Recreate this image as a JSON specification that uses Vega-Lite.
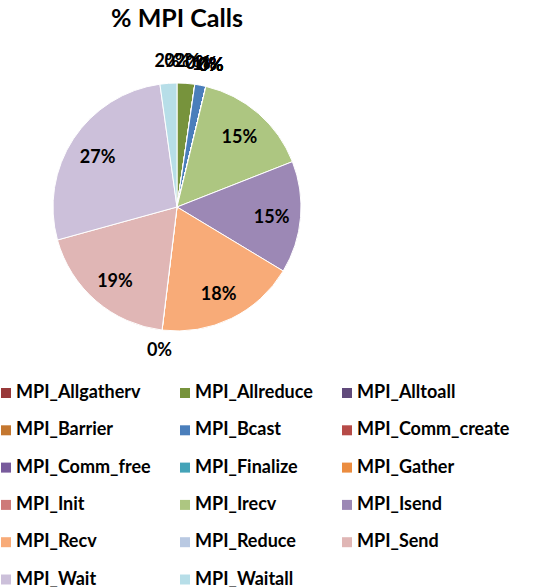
{
  "$schema": "https://vega.github.io/schema/vega-lite/v6.json",
  "width": 354,
  "height": 334,
  "autosize": {"type": "none"},
  "padding": {"top": 40, "left": 0, "right": 195, "bottom": 213},
  "background": "#ffffff",
  "title": {"text": "% MPI Calls", "font": "Lato", "fontSize": 25, "fontWeight": "bold", "color": "#000000", "anchor": "middle", "offset": 8},
  "data": {"values": [
    {"call": "MPI_Allgatherv", "share": 0.0},
    {"call": "MPI_Allreduce", "share": 0.023},
    {"call": "MPI_Alltoall", "share": 0.0},
    {"call": "MPI_Barrier", "share": 0.0},
    {"call": "MPI_Bcast", "share": 0.0145},
    {"call": "MPI_Comm_create", "share": 0.0},
    {"call": "MPI_Comm_free", "share": 0.0},
    {"call": "MPI_Finalize", "share": 0.0},
    {"call": "MPI_Gather", "share": 0.0},
    {"call": "MPI_Init", "share": 0.0},
    {"call": "MPI_Irecv", "share": 0.153},
    {"call": "MPI_Isend", "share": 0.146},
    {"call": "MPI_Recv", "share": 0.183},
    {"call": "MPI_Reduce", "share": 0.0},
    {"call": "MPI_Send", "share": 0.188},
    {"call": "MPI_Wait", "share": 0.271},
    {"call": "MPI_Waitall", "share": 0.022}
  ]},
  "encoding": {
    "theta": {"field": "share", "type": "quantitative", "stack": true},
    "order": {"field": "call", "type": "nominal", "sort": "ascending"}
  },
  "layer": [
    {
      "mark": {"type": "arc", "outerRadius": 124, "stroke": "#ffffff", "strokeWidth": 1},
      "encoding": {
        "color": {
          "field": "call", "type": "nominal",
          "scale": {
            "domain": ["MPI_Allgatherv", "MPI_Allreduce", "MPI_Alltoall", "MPI_Barrier", "MPI_Bcast", "MPI_Comm_create", "MPI_Comm_free", "MPI_Finalize", "MPI_Gather", "MPI_Init", "MPI_Irecv", "MPI_Isend", "MPI_Recv", "MPI_Reduce", "MPI_Send", "MPI_Wait", "MPI_Waitall"],
            "range": ["#98393A", "#77933C", "#604A7B", "#C4772F", "#4A7EBB", "#B64A47", "#785B9C", "#44A3B8", "#EB8C3F", "#CE7A79", "#ADC681", "#9C88B5", "#F8AB78", "#B9C9E2", "#E0B6B5", "#CCC0DA", "#B7DEE8"]
          },
          "legend": {
            "orient": "none", "legendX": -3, "legendY": 344, "columns": 3, "direction": "horizontal", "padding": 0,
            "title": null, "symbolType": "square", "symbolSize": 100, "symbolStrokeWidth": 0,
            "labelFont": "Lato", "labelFontSize": 18, "labelFontWeight": "bold", "labelColor": "#000000",
            "labelLimit": 300, "labelOffset": 1, "rowPadding": 19.3, "columnPadding": 25, "gridAlign": "each"
          }
        }
      }
    },
    {
      "mark": {"type": "text", "radius": 95, "font": "Lato", "fontSize": 18, "fontWeight": "bold", "color": "#000000", "dy": 3},
      "encoding": {
        "detail": {"field": "call", "type": "nominal"},
        "text": {"condition": {"test": "datum.share >= 0.05", "field": "share", "type": "quantitative", "format": ".0%"}, "value": ""}
      }
    },
    {
      "mark": {"type": "text", "radius": 145, "font": "Lato", "fontSize": 18, "fontWeight": "bold", "color": "#000000"},
      "encoding": {
        "detail": {"field": "call", "type": "nominal"},
        "text": {"condition": {"test": "datum.share < 0.05", "field": "share", "type": "quantitative", "format": ".0%"}, "value": ""}
      }
    }
  ]
}
